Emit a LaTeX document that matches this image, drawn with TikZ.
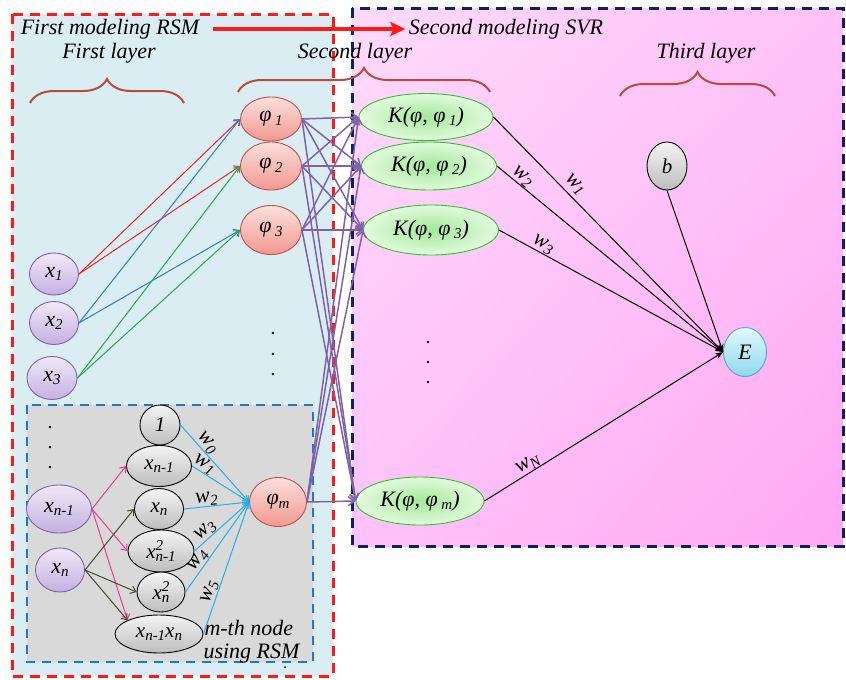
\documentclass[tikz,border=0pt]{standalone}
\usepackage{fontspec}
\setmainfont{Liberation Serif}
\usetikzlibrary{arrows.meta,decorations.pathreplacing,shapes.geometric,shadings}

\definecolor{rsmred}{HTML}{FF1A1A}
\definecolor{svrnavy}{HTML}{0F2060}
\definecolor{rsmblue}{HTML}{1E78C8}
\definecolor{skyfill}{HTML}{DAEDF3}
\definecolor{greyfill}{HTML}{D9D9D9}
\definecolor{pinkA}{HTML}{FFDAFB}
\definecolor{pinkM}{HTML}{FFC2F8}
\definecolor{pinkB}{HTML}{FFA8F3}
\definecolor{bracecol}{HTML}{B84A40}
\definecolor{purp}{HTML}{7F62A8}
\definecolor{redln}{HTML}{E8262A}
\definecolor{blueln}{HTML}{2E7EC8}
\definecolor{greenln}{HTML}{2AA84A}
\definecolor{cyanln}{HTML}{22B0EC}
\definecolor{pinkln}{HTML}{F03C8C}
\definecolor{oliveln}{HTML}{4A4A30}
% node colours
\definecolor{inpdraw}{HTML}{8064A2}
\definecolor{inptop}{HTML}{F0E9F8}
\definecolor{inpbot}{HTML}{C4B0E0}
\definecolor{phidraw}{HTML}{C0504D}
\definecolor{phitop}{HTML}{FDE0DC}
\definecolor{phibot}{HTML}{F09890}
\definecolor{kerdraw}{HTML}{2EC22E}
\definecolor{kerin}{HTML}{A4E89A}
\definecolor{kerout}{HTML}{E2FADD}
\definecolor{termtop}{HTML}{F4F4F4}
\definecolor{termbot}{HTML}{BDBDBD}
\definecolor{outdraw}{HTML}{4BACC6}
\definecolor{outtop}{HTML}{E2F8FD}
\definecolor{outbot}{HTML}{8ED8EE}

% lowered / raised indices in text mode
\newcommand\lowix[1]{\raisebox{-0.35ex}{\fontsize{15}{16}\selectfont #1}}
\newcommand\highix[1]{\raisebox{0.85ex}{\fontsize{15}{16}\selectfont #1}}
\newcommand\sqix[2]{\rlap{\highix{#1}}\lowix{#2}}

\begin{document}
\begin{tikzpicture}[x=1pt,y=-1pt,
  ell/.style={ellipse, inner sep=0pt, line width=0.9pt,
    font=\fontsize{22}{25}\selectfont\itshape},
  inpnode/.style={ell, draw=inpdraw, top color=inptop, bottom color=inpbot},
  phinode/.style={ell, draw=phidraw, top color=phitop, bottom color=phibot},
  kernode/.style={ell, draw=kerdraw, inner color=kerin, outer color=kerout},
  termnode/.style={ell, draw=black, top color=termtop, bottom color=termbot,
    font=\fontsize{21}{24}\selectfont\itshape},
  outnode/.style={ell, draw=outdraw, top color=outtop, bottom color=outbot},
  heading/.style={font=\fontsize{22}{26}\selectfont\itshape},
  wlabel/.style={font=\fontsize{22}{24}\selectfont\itshape, text=black, sloped, inner sep=0.5pt},
  layerbrace/.style={draw=bracecol, line width=2pt,
    decorate, decoration={brace, amplitude=24pt, aspect=0.5}},
  thinarrow/.style={line width=1pt, -{Straight Barb[length=5pt,width=8pt]}},
  purparrow/.style={draw=purp, line width=1.5pt, -{Straight Barb[length=6pt,width=9pt]}},
  blackarrow/.style={draw=black, line width=1pt, -{Stealth[length=8pt,width=6pt]}},
  dotmark/.style={fill=black, circle, inner sep=0pt, minimum size=2.6pt}
]
\useasboundingbox (0,0) rectangle (846,680);
\fill[white] (0,0) rectangle (846,680);

% ---- panels ----
\fill[skyfill] (12,14) rectangle (333,676);
\shade[upper left=pinkA, upper right=pinkM, lower left=pinkM, lower right=pinkB]
  (352,8) rectangle (843,546);
\fill[greyfill] (27,405) rectangle (313,662);
\draw[rsmred, line width=3pt, dash pattern=on 10pt off 7pt] (12,14) rectangle (333,676);
\draw[svrnavy, line width=3pt, dash pattern=on 10pt off 7pt] (352,8) rectangle (843,546);
\draw[rsmblue, line width=2.6pt, dash pattern=on 9pt off 7pt] (27,405) rectangle (313,662);

% ---- headings ----
\node[heading] (t1) at (110,29) {First modeling RSM};
\node[heading] (t2) at (506,29) {Second modeling SVR};
\node[heading] (l1) at (109,53) {First layer};
\node[heading] (l2) at (355,53) {Second layer};
\node[heading] (l3) at (706,53) {Third layer};
\draw[rsmred, line width=3.5pt, -{Stealth[length=15pt,width=14pt,inset=3pt]}]
  (t1.east) ++(10,0) coordinate (ta) (ta) -- (t2.west |- ta);

% ---- braces ----
\draw[layerbrace] (30,103) -- (184,103);
\draw[layerbrace] (238,92) -- (490,92);
\draw[layerbrace] (620,96) -- (775,96);

% ---- nodes: inputs ----
\node[inpnode, minimum width=49pt, minimum height=42pt] (x1) at (54,274) {x\lowix{1}};
\node[inpnode, minimum width=49pt, minimum height=43pt] (x2) at (54,323) {x\lowix{2}};
\node[inpnode, minimum width=50pt, minimum height=43pt] (x3) at (52,378) {x\lowix{3}};
\node[inpnode, minimum width=65pt, minimum height=48pt] (xa) at (59,509) {x\lowix{n-1}};
\node[inpnode, minimum width=49pt, minimum height=44pt] (xb) at (60,570) {x\lowix{n}};

% ---- nodes: second layer ----
\node[phinode, minimum width=61pt, minimum height=44pt] (p1) at (271,119) {φ\,\lowix{1}};
\node[phinode, minimum width=61pt, minimum height=48pt] (p2) at (271,166) {φ\,\lowix{2}};
\node[phinode, minimum width=61pt, minimum height=49pt] (p3) at (271,230) {φ\,\lowix{3}};
\node[phinode, minimum width=57pt, minimum height=49pt] (pm) at (278,502) {φ\lowix{m}};

\node[kernode, minimum width=134pt, minimum height=47pt] (k1) at (426,117) {K(φ, φ\,\lowix{1})};
\node[kernode, minimum width=135pt, minimum height=48pt] (k2) at (429,166) {K(φ, φ\,\lowix{2})};
\node[kernode, minimum width=135pt, minimum height=50pt] (k3) at (431,230) {K(φ, φ\,\lowix{3})};
\node[kernode, minimum width=128pt, minimum height=48pt] (km) at (420,501) {K(φ, φ\,\lowix{m})};

% ---- nodes: third layer ----
\node[termnode, minimum width=40pt, minimum height=48pt] (b) at (667,166) {b};
\node[outnode, minimum width=43pt, minimum height=49pt] (E) at (745,352) {E};

% ---- nodes: RSM terms ----
\node[termnode, minimum width=40pt, minimum height=40pt] (g0) at (160,425) {1};
\node[termnode, minimum width=65pt, minimum height=41pt] (g1) at (159,466) {x\lowix{n-1}};
\node[termnode, minimum width=49pt, minimum height=41pt] (g2) at (159,509) {x\lowix{n}};
\node[termnode, minimum width=66pt, minimum height=42pt] (g3) at (161,551) {x\sqix{2}{n-1}};
\node[termnode, minimum width=48pt, minimum height=40pt] (g4) at (161,592) {x\sqix{2}{n}};
\node[termnode, minimum width=88pt, minimum height=38pt] (g5) at (159,634) {x\lowix{n-1}x\lowix{n}};

% ---- ellipsis dots ----
\foreach \yy in {333,354,374} \node[dotmark] at (273,\yy) {};
\foreach \yy in {342,362,382} \node[dotmark] at (428,\yy) {};
\foreach \yy in {427,447,467} \node[dotmark] at (50,\yy) {};
\node[dotmark, minimum size=2pt] at (285,667) {};

\node[heading, anchor=west] (mth) at (201,628) {m-th node};
\node[heading, anchor=east] (urs) at (303,654) {using RSM};

% ---- first layer -> second layer ----
\draw[thinarrow, redln] (x1.east) -- (p1.west);
\draw[thinarrow, redln] (x1.east) -- (p2.west);
\draw[thinarrow, blueln] (x2.east) -- (p1.west);
\draw[thinarrow, blueln] (x2.east) -- (p3.west);
\draw[thinarrow, greenln] (x3.east) -- (p2.west);
\draw[thinarrow, greenln] (x3.east) -- (p3.west);

% ---- inputs -> RSM terms ----
\draw[thinarrow, pinkln] (xa.east) -- (g1.west);
\draw[thinarrow, pinkln] (xa.east) -- (g3.west);
\draw[thinarrow, pinkln] (xa.east) -- (g5.north west);
\draw[thinarrow, oliveln] (xb.east) -- (g2.west);
\draw[thinarrow, oliveln] (xb.east) -- (g4.west);
\draw[thinarrow, oliveln] (xb.east) -- (g5.north west);

% ---- RSM terms -> phi_m ----
\draw[thinarrow, cyanln] (g0.east) -- node[wlabel, pos=0.3, above] {w\lowix{0}} (pm.west);
\draw[thinarrow, cyanln] (g1.east) -- node[wlabel, pos=0.14, above] {w\lowix{1}} (pm.west);
\draw[thinarrow, cyanln] (g2.east) -- node[wlabel, pos=0.36, above] {w\lowix{2}} (pm.west);
\draw[thinarrow, cyanln] (g3.east) -- node[wlabel, pos=0.3, above] {w\lowix{3}} (pm.west);
\draw[thinarrow, cyanln] (g4.east) -- node[wlabel, pos=0.3, above] {w\lowix{4}} (pm.west);
\draw[thinarrow, cyanln] (g5.east) -- node[wlabel, pos=0.3, above] {w\lowix{5}} (pm.west);

% ---- second layer: phi -> kernels ----
\foreach \src in {p1,p2,p3,pm}
  \foreach \dst in {k1,k2,k3,km}
    \draw[purparrow] (\src.east) -- (\dst.west);

% ---- kernels -> output ----
\draw[blackarrow] (k1.east) -- node[wlabel, pos=0.32, above=3pt] {w\lowix{1}} (E.west);
\draw[blackarrow] (k2.east) -- node[wlabel, pos=0.09, above] {w\lowix{2}} (E.west);
\draw[blackarrow] (k3.east) -- node[wlabel, pos=0.18, above] {w\lowix{3}} (E.west);
\draw[blackarrow] (km.east) -- node[wlabel, pos=0.2, above] {w\lowix{N}} (E.west);
\draw[blackarrow] (b.south) -- (E.west);
\end{tikzpicture}
\end{document}
